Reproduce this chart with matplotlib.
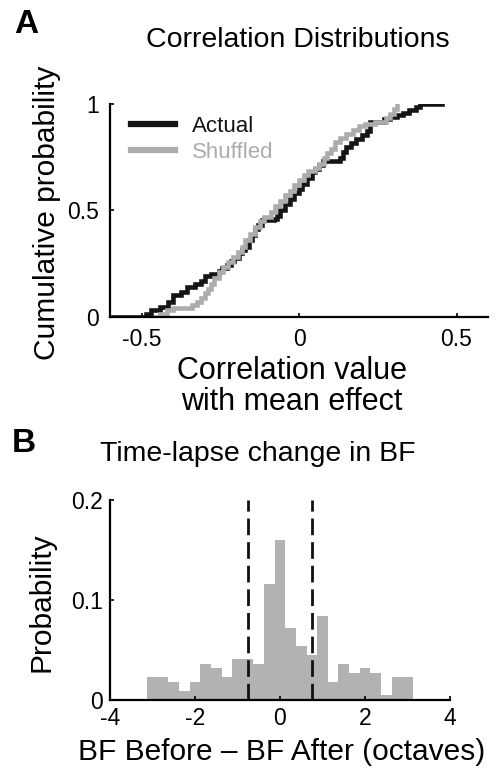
import numpy as np
import matplotlib
matplotlib.use('Agg')
import matplotlib.pyplot as plt

plt.rcParams['font.family'] = ['Liberation Sans', 'DejaVu Sans']

# panel A: cumulative distributions (step breakpoints)
actual_x = [-0.59, -0.487, -0.47, -0.44, -0.415, -0.40, -0.375, -0.355, -0.33, -0.31,
            -0.30, -0.28, -0.255, -0.245, -0.23, -0.215, -0.205, -0.19, -0.18, -0.17,
            -0.16, -0.15, -0.14, -0.13, -0.118, -0.08, -0.07, -0.06, -0.045, -0.03,
            -0.015, 0.0, 0.01, 0.025, 0.04, 0.05, 0.065, 0.075, 0.13, 0.14,
            0.15, 0.165, 0.18, 0.20, 0.215, 0.224, 0.27, 0.29, 0.31, 0.33,
            0.35, 0.37, 0.385, 0.455]
actual_y = [0.0, 0.015, 0.03, 0.046, 0.07, 0.10, 0.115, 0.14, 0.155, 0.17,
            0.19, 0.20, 0.215, 0.23, 0.245, 0.26, 0.275, 0.30, 0.315, 0.33,
            0.36, 0.385, 0.41, 0.43, 0.454, 0.46, 0.475, 0.50, 0.53, 0.555,
            0.58, 0.60, 0.625, 0.65, 0.68, 0.695, 0.715, 0.73, 0.745, 0.775,
            0.80, 0.815, 0.835, 0.855, 0.875, 0.915, 0.93, 0.94, 0.95, 0.96,
            0.97, 0.985, 1.0, 1.0]

shuffled_x = [-0.455, -0.44, -0.42, -0.40, -0.34, -0.325, -0.31, -0.30, -0.29, -0.28,
              -0.27, -0.255, -0.24, -0.225, -0.21, -0.195, -0.18, -0.17, -0.155, -0.14,
              -0.125, -0.11, -0.09, -0.075, -0.06, -0.045, -0.03, -0.015, 0.0, 0.015,
              0.03, 0.05, 0.065, 0.08, 0.09, 0.10, 0.115, 0.13, 0.15, 0.17,
              0.19, 0.21, 0.24, 0.275, 0.29, 0.30, 0.31]
shuffled_y = [0.0, 0.015, 0.03, 0.04, 0.055, 0.07, 0.09, 0.11, 0.13, 0.155,
              0.18, 0.21, 0.235, 0.255, 0.28, 0.305, 0.33, 0.36, 0.39, 0.42,
              0.45, 0.47, 0.49, 0.52, 0.545, 0.57, 0.59, 0.62, 0.645, 0.665,
              0.685, 0.70, 0.72, 0.745, 0.77, 0.79, 0.82, 0.84, 0.86, 0.88,
              0.895, 0.905, 0.915, 0.935, 0.955, 0.975, 1.0]

# panel B: histogram of BF change
bin_centers = [-3.0, -2.75, -2.5, -2.25, -2.0, -1.75, -1.5, -1.25, -1.0, -0.75,
               -0.5, -0.25, 0.0, 0.25, 0.5, 0.75, 1.0, 1.25, 1.5, 1.75,
               2.0, 2.25, 2.5, 2.75, 3.0]
probs = [0.023, 0.023, 0.018, 0.009, 0.018, 0.036, 0.032, 0.023, 0.041, 0.041,
         0.036, 0.116, 0.160, 0.072, 0.054, 0.045, 0.084, 0.018, 0.036, 0.027,
         0.032, 0.027, 0.005, 0.023, 0.023]
bin_width = 0.25
threshold = 0.75

W, H = 496, 769
fig = plt.figure(figsize=(W / 100, H / 100), dpi=100)


def style(ax, pad):
    for s in ['top', 'right']:
        ax.spines[s].set_visible(False)
    for s in ['left', 'bottom']:
        ax.spines[s].set_linewidth(1.6)
    ax.tick_params(direction='in', length=3, width=1.2, labelsize=16.5, pad=pad)


# ---- panel A ----
ax1 = fig.add_axes([110 / W, 1 - 316.7 / H, 378 / W, 212.7 / H])
ax1.plot(actual_x, actual_y, drawstyle='steps-post', color='#151515', lw=3.3,
         solid_joinstyle='miter', label='Actual')
ax1.plot(shuffled_x, shuffled_y, drawstyle='steps-post', color='#acacac', lw=3.3,
         solid_joinstyle='miter', label='Shuffled')
ax1.set_xlim(-0.6, 0.6)
ax1.set_ylim(0, 1)
ax1.set_xticks([-0.5, 0, 0.5])
ax1.set_xticklabels(['-0.5', '0', '0.5'])
ax1.set_yticks([0, 0.5, 1])
ax1.set_yticklabels(['0', '0.5', '1'])
style(ax1, 8)
ax1.set_xlabel('Correlation value\nwith mean effect', fontsize=22, linespacing=1.05)
ax1.xaxis.set_label_coords(0.481, -0.185)
ax1.set_ylabel('Cumulative probability', fontsize=21.5)
ax1.yaxis.set_label_coords(-0.13, 0.49)
ax1.legend(loc='upper left', bbox_to_anchor=(0.055, 0.945), frameon=False, fontsize=16,
           handlelength=2.0, handletextpad=0.75, labelspacing=0.22, borderpad=0,
           borderaxespad=0, labelcolor='linecolor')
for ln in ax1.get_legend().get_lines():
    ln.set_linewidth(4.5)

# ---- panel B ----
ax2 = fig.add_axes([110 / W, 1 - 700 / H, 340 / W, 200 / H])
ax2.bar(bin_centers, probs, width=bin_width, color='#b2b2b2', linewidth=0)
ax2.vlines([-threshold, threshold], 0, 0.2, colors='#111111', lw=2,
           linestyles=[(0, (6, 2.5))])
ax2.set_xlim(-4, 4)
ax2.set_ylim(0, 0.2)
ax2.set_xticks([-4, -2, 0, 2, 4])
ax2.set_xticklabels(['-4', '-2', '0', '2', '4'])
ax2.set_yticks([0, 0.1, 0.2])
ax2.set_yticklabels(['0', '0.1', '0.2'])
style(ax2, 5)
ax2.set_xlabel('BF Before \u2013 BF After (octaves)', fontsize=21.5)
ax2.xaxis.set_label_coords(0.505, -0.19)
ax2.set_ylabel('Probability', fontsize=21.5)
ax2.yaxis.set_label_coords(-0.16, 0.49)

# titles and panel letters
fig.text(298 / W, 1 - 40 / H, 'Correlation Distributions', fontsize=20.5, ha='center', va='center')
fig.text(257.5 / W, 1 - 454 / H, 'Time-lapse change in BF', fontsize=20.5, ha='center', va='center')
fig.text(14 / W, 1 - 33 / H, 'A', fontsize=24, fontweight='bold', ha='left', va='baseline')
fig.text(12 / W, 1 - 452 / H, 'B', fontsize=24, fontweight='bold', ha='left', va='baseline')

plt.savefig('out.png', dpi=100)
